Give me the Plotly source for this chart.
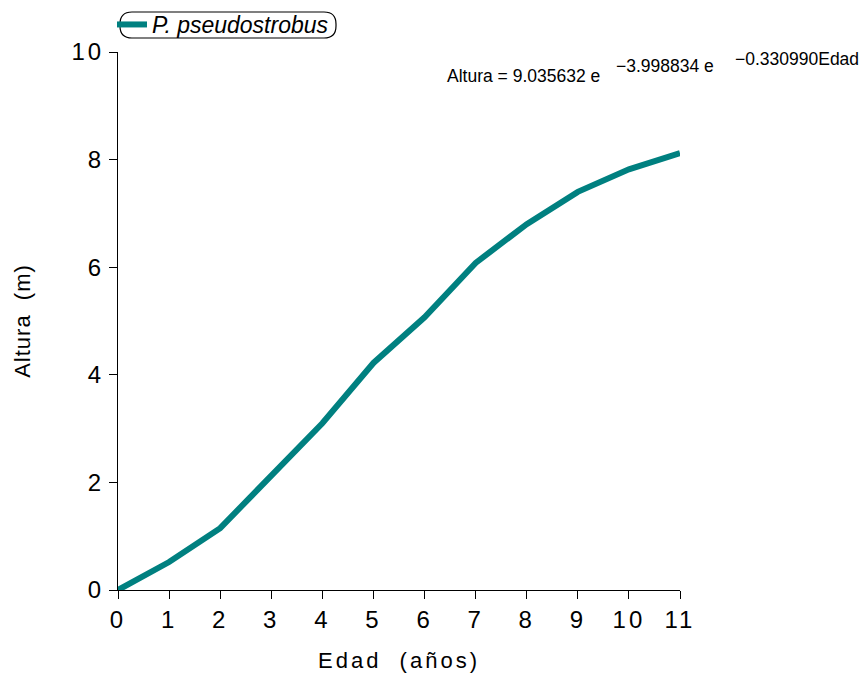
import plotly.graph_objects as go

edad = [0, 1, 2, 3, 4, 5, 6, 7, 8, 9, 10, 11]
altura = [0.0, 0.52, 1.15, 2.12, 3.10, 4.22, 5.07, 6.08, 6.80, 7.40, 7.82, 8.12]
x_ticks = list(range(0, 12))
y_ticks = [0, 2, 4, 6, 8, 10]
series_name = "<i>P. pseudostrobus</i>"
x_title = "Edad  (años)"
y_title = "Altura  (m)"
eq_parts = ["Altura = 9.035632 e", "\u22123.998834 e", "\u22120.330990Edad"]

W, H = 861, 677
L, R, T, B = 118, 181, 52, 87
pw, ph = W - L - R, H - T - B

def px(xp):
    return (xp - L) / pw

def py(yp):
    return (H - B - yp) / ph

fig = go.Figure()
fig.add_trace(go.Scatter(
    x=edad, y=altura, mode="lines", name=series_name,
    line=dict(color="#008080", width=6, shape="linear"),
))

font = "Liberation Sans, Arial, sans-serif"
fig.update_layout(
    width=W, height=H,
    margin=dict(l=L, r=R, t=T, b=B, autoexpand=False),
    paper_bgcolor="white", plot_bgcolor="white",
    font=dict(family=font, color="black", size=20),
    showlegend=True,
    legend=dict(
        x=px(112), y=py(3), xanchor="left", yanchor="top",
        bgcolor="rgba(0,0,0,0)", borderwidth=0,
        font=dict(size=23, family=font),
        itemwidth=30, tracegroupgap=0,
    ),
    xaxis=dict(
        range=[0, 11], tickvals=x_ticks, ticks="outside", ticklen=8,
        tickcolor="black", showline=True, linecolor="black", linewidth=1,
        showgrid=False, zeroline=False, tickfont=dict(size=24),
        automargin=False,
        title=dict(text=x_title, font=dict(size=22), standoff=20),
    ),
    yaxis=dict(
        range=[0, 10], tickvals=y_ticks, ticks="outside", ticklen=8,
        tickcolor="black", showline=True, linecolor="black", linewidth=1,
        showgrid=False, zeroline=False, tickfont=dict(size=24),
        automargin=False,
        title=dict(text=y_title, font=dict(size=22), standoff=40),
    ),
)

# rounded legend box
x0, x1, y0, y1 = px(120), px(336), py(38), py(12)
rx = 12 / pw
ry = 12 / ph
path = (f"M {x0+rx},{y1} L {x1-rx},{y1} Q {x1},{y1} {x1},{y1-ry} "
        f"L {x1},{y0+ry} Q {x1},{y0} {x1-rx},{y0} L {x0+rx},{y0} "
        f"Q {x0},{y0} {x0},{y0+ry} L {x0},{y1-ry} Q {x0},{y1} {x0+rx},{y1} Z")
fig.add_shape(type="path", path=path, xref="paper", yref="paper",
              line=dict(color="black", width=1.2), layer="above")

ann_font = dict(family=font, size=17.5, color="black")
for text, xp, yp in zip(eq_parts, [445, 614, 733], [76, 66, 59]):
    fig.add_annotation(text=text, x=px(xp), y=py(yp), xref="paper", yref="paper",
                       xanchor="left", yanchor="middle", showarrow=False, font=ann_font)

css = ("body{margin:0}"
       ".xtick text,.ytick text{letter-spacing:3px}"
       ".g-xtitle text{letter-spacing:3px}"
       ".g-ytitle text{letter-spacing:1px}")
post = ("var s=document.createElement('style');s.textContent=" + repr(css) +
        ";document.head.appendChild(s);")
fig.write_html("out.html", post_script=post, config={"displayModeBar": False})
